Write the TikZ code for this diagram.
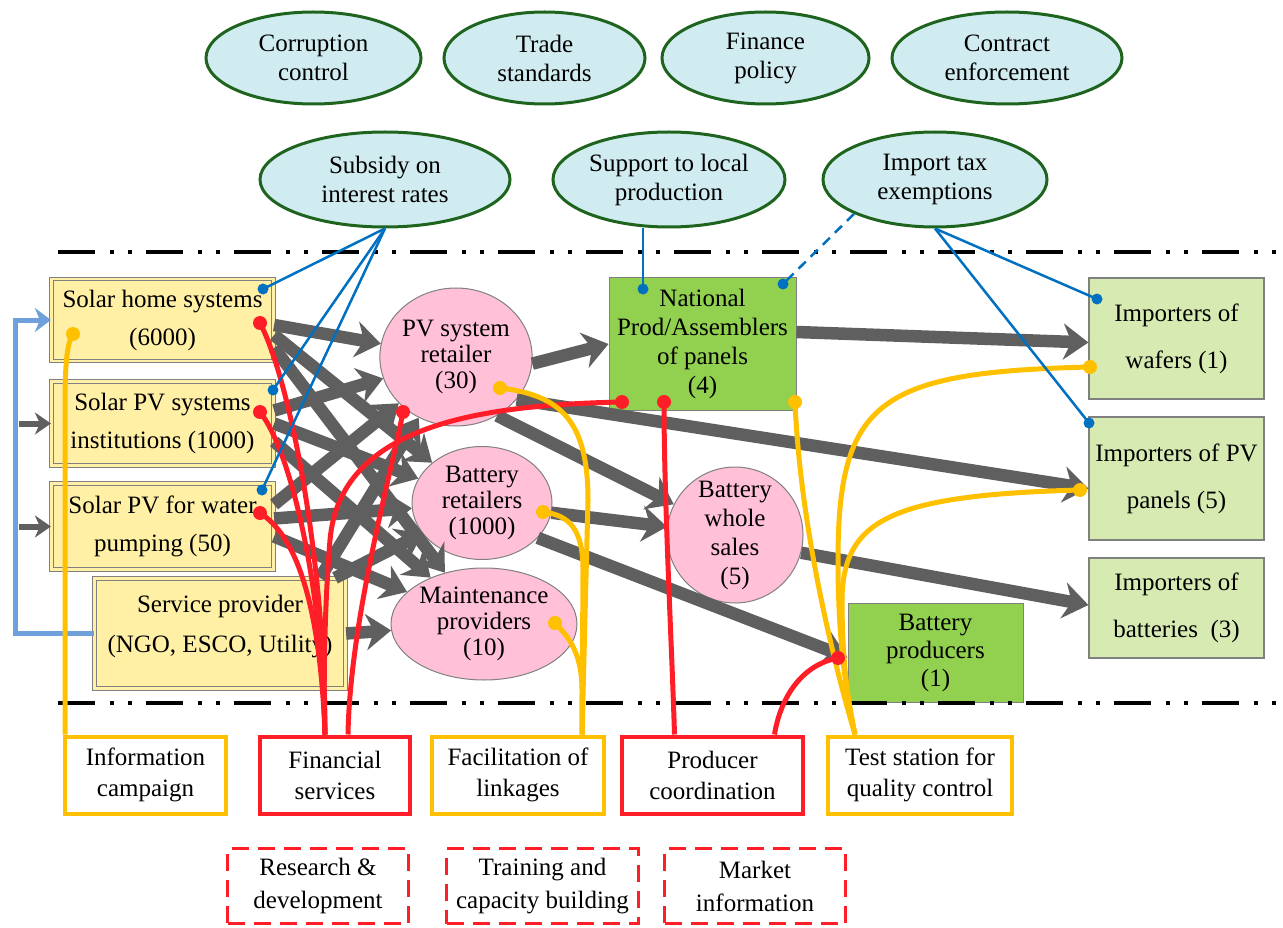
\documentclass[tikz,border=0pt]{standalone}
\usepackage{fontspec}
\setmainfont{Liberation Serif}
\usetikzlibrary{arrows.meta,shapes.geometric}
\definecolor{ylwfill}{RGB}{255,240,165}
\definecolor{boxgray}{RGB}{128,128,128}
\definecolor{pinkfill}{RGB}{255,192,216}
\definecolor{npagreen}{RGB}{146,208,80}
\definecolor{impgreen}{RGB}{215,234,178}
\definecolor{cyanfill}{RGB}{208,236,240}
\definecolor{dkgreen}{RGB}{30,100,30}
\definecolor{garr}{RGB}{95,95,95}
\definecolor{bline}{RGB}{0,112,192}
\definecolor{lblue}{RGB}{110,160,220}
\definecolor{rline}{RGB}{255,30,40}
\definecolor{yline}{RGB}{255,192,0}
\begin{document}
\begin{tikzpicture}[x=1pt,y=-1pt,
  txt/.style={font=\fontsize{25}{29}\selectfont, align=center, text=black},
  ybox/.style={txt, rectangle, draw=boxgray, double=ylwfill, double distance=2.5pt, line width=1.2pt, fill=ylwfill, inner sep=0pt, font=\fontsize{25}{38}\selectfont},
  pinkell/.style={txt, ellipse, draw=boxgray, line width=1pt, fill=pinkfill, inner sep=0pt, font=\fontsize{25}{26}\selectfont},
  polell/.style={txt, ellipse, draw=dkgreen, line width=3pt, fill=cyanfill, inner sep=0pt, minimum height=92pt},
  gbox/.style={txt, rectangle, draw=boxgray, line width=1pt, fill=npagreen, inner sep=0pt},
  impbox/.style={txt, rectangle, draw=boxgray, line width=1.2pt, fill=impgreen, inner sep=0pt, font=\fontsize{25}{47}\selectfont},
  ybot/.style={txt, rectangle, draw=yline, line width=4pt, fill=white, inner sep=0pt, minimum height=77pt, font=\fontsize{25}{31}\selectfont},
  rbot/.style={ybot, draw=rline},
  rdash/.style={ybot, draw=rline, dash pattern=on 17pt off 9pt, line width=3.5pt, font=\fontsize{25}{33}\selectfont},
  dashdot/.style={draw=black, line width=4.5pt, dash pattern=on 37pt off 15pt on 4pt off 14pt on 4pt off 14pt},
  garrow/.style={draw=garr, line width=12.5pt, -{Stealth[length=25pt,width=36pt,inset=8pt]}},
  gsmall/.style={draw=garr, line width=6pt, -{Stealth[length=16pt,width=22pt,inset=5pt]}},
  fbline/.style={draw=lblue, line width=5pt, -{Stealth[length=16pt,width=24pt,inset=5pt]}},
  bluel/.style={draw=bline, line width=2.5pt},
  redl/.style={draw=rline, line width=5pt},
  yell/.style={draw=yline, line width=5pt}
]
\useasboundingbox (0,0) rectangle (1283,928);

% policy ellipses
\node[polell, minimum width=215pt] (corr) at (313.5,58) {Corruption\\control};
\node[polell, minimum width=201pt] (trade) at (544.5,58) {Trade\\standards};
\node[polell, minimum width=207pt] (finp) at (765.5,58) {Finance\\policy};
\node[polell, minimum width=230pt] (contr) at (1007,58) {Contract\\enforcement};
\node[polell, minimum width=250pt, minimum height=95pt] (subs) at (385,179.5) {Subsidy on\\interest rates};
\node[polell, minimum width=232pt, minimum height=95pt] (supp) at (669,179.5) {Support to local\\production};
\node[polell, minimum width=224pt, minimum height=95pt] (imptax) at (935,179.5) {Import tax\\exemptions};

% left boxes
\node[ybox, minimum width=222pt, minimum height=82pt] (shs) at (162.5,320) {Solar home systems\\(6000)};
\node[ybox, minimum width=222pt, minimum height=84pt] (spi) at (162.5,423.5) {Solar PV systems\\institutions (1000)};
\node[ybox, minimum width=222pt, minimum height=86pt] (spw) at (162.5,526.5) {Solar PV for water\\pumping (50)};
\node[ybox, minimum width=251pt, minimum height=110pt] (sp) at (220,633.5) {};
\node[txt, font=\fontsize{25}{40}\selectfont] (sptxt) at (220,627) {Service provider\\(NGO, ESCO, Utility)};

% pink ellipses
\node[pinkell, minimum width=152pt, minimum height=138pt] (pvr) at (456,357) {PV system\\retailer\\(30)};
\node[pinkell, minimum width=140pt, minimum height=113pt] (bat) at (482,503) {Battery\\retailers\\(1000)};
\node[pinkell, minimum width=186pt, minimum height=112pt] (mnt) at (484,624) {Maintenance\\providers\\(10)};
\node[pinkell, minimum width=136pt, minimum height=136pt, inner ysep=-14pt, font=\fontsize{25}{29}\selectfont] (bws) at (735,535) {Battery\\whole\\sales\\(5)};

% green boxes
\node[gbox, minimum width=187pt, minimum height=132pt] (npa) at (702.5,344) {National\\Prod/Assemblers\\of panels\\(4)};
\node[gbox, minimum width=175pt, minimum height=99pt, font=\fontsize{25}{28}\selectfont] (bprod) at (935.5,652.5) {Battery\\producers\\(1)};
\node[impbox, minimum width=175pt, minimum height=121pt] (imp1) at (1176.5,338.5) {Importers of\\wafers (1)};
\node[impbox, minimum width=175pt, minimum height=123pt] (imp2) at (1176.5,478.5) {Importers of PV\\panels (5)};
\node[impbox, minimum width=175pt, minimum height=100pt] (imp3) at (1176.5,608) {Importers of\\batteries\ \ (3)};

% bottom boxes
\node[ybot, minimum width=161pt] (info) at (145.5,775) {Information\\campaign};
\node[rbot, minimum width=150pt] (fin) at (335,775) {Financial\\services};
\node[ybot, minimum width=172pt] (fac) at (518,775) {Facilitation of\\linkages};
\node[rbot, minimum width=181pt] (prod) at (712.5,775) {Producer\\coordination};
\node[ybot, minimum width=184pt] (test) at (920,775) {Test station for\\quality control};
\node[rdash, minimum width=181pt, minimum height=75pt] (rd) at (318,886) {Research \&\\development};
\node[rdash, minimum width=192pt, minimum height=75pt] (tcb) at (542.5,886) {Training and\\capacity building};
\node[rdash, minimum width=181pt, minimum height=75pt] (mi) at (755,886) {Market\\information};

% dash-dot boundaries
\coordinate (dl1) at (58,252); \coordinate (dr1) at (1283,252);
\coordinate (dl2) at (58,703); \coordinate (dr2) at (1283,703);
\draw[dashdot] (dl1) -- (dr1);
\draw[dashdot] (dl2) -- (dr2);

% feedback
\draw[fbline] (sp.west) -- ++(-78,0) |- (shs.west);
\coordinate (fb1) at (19,423.5);
\coordinate (fb2) at (19,526.5);
\draw[gsmall] (fb1) -- (spi.west);
\draw[gsmall] (fb2) -- (spw.west);

% gray flows
\draw[garrow] ([yshift=-5pt]shs.east) -- (pvr);
\draw[garrow] ([yshift=-15pt]shs.east) -- (bat);
\draw[garrow] ([yshift=-28pt]shs.east) -- (mnt);
\draw[garrow] ([yshift=13pt]spi.east) -- (pvr);
\draw[garrow] (spi.east) -- (bat);
\draw[garrow] ([yshift=-18pt]spi.east) -- (mnt);
\draw[garrow] ([yshift=22pt]spw.east) -- (pvr);
\draw[garrow] ([yshift=8pt]spw.east) -- (bat);
\draw[garrow] ([yshift=-10pt]spw.east) -- (mnt);
\draw[garrow] ([xshift=100pt]sp.north) -- (pvr);
\draw[garrow] ([xshift=115pt]sp.north) -- (bat);
\draw[garrow] (sp.east) -- (mnt);
\draw[garrow] (pvr.-5) -- (npa.west);
\draw[garrow] ([yshift=12pt]npa.east) -- ([yshift=-4pt]imp1.west);
\draw[garrow] (pvr.-35) -- ([yshift=-10pt]imp2.west);
\draw[garrow] (pvr.-55) -- (bws);
\draw[garrow] (bat.-8) -- (bws);
\draw[garrow] (bat.-32) -- ([yshift=-5pt]bprod.west);
\draw[garrow] (bws.-15) -- ([yshift=3pt]imp3.west);

% dot coordinates
\coordinate (shsB) at (263,289); \coordinate (spiB) at (273,390); \coordinate (spwB) at (262,490);
\coordinate (npaB) at (643,289); \coordinate (npaD) at (783,284);
\coordinate (imp1B) at (1097,299); \coordinate (imp2B) at (1089,423);
\coordinate (shsR) at (260,323); \coordinate (spiR) at (260,412); \coordinate (spwR) at (260,513);
\coordinate (pvrR) at (403,412); \coordinate (npaR1) at (622,402); \coordinate (npaR2) at (664,402);
\coordinate (bprodR) at (838,658);
\coordinate (shsY) at (73,334); \coordinate (pvrY) at (500,388); \coordinate (batY) at (543,512);
\coordinate (mntY) at (555,623); \coordinate (npaY) at (795,402);
\coordinate (imp1Y) at (1090,367); \coordinate (imp2Y) at (1080,490);

% red links
\draw[redl] (shsR) .. controls (290,380) and (325,560) .. ([xshift=-10pt]fin.north);
\draw[redl] (spiR) .. controls (290,450) and (322,580) .. ([xshift=-10pt]fin.north);
\draw[redl] (spwR) .. controls (295,535) and (320,600) .. ([xshift=-10pt]fin.north);
\draw[redl] (pvrR) .. controls (392,470) and (350,620) .. ([xshift=13pt]fin.north);
\draw[redl] (npaR1) .. controls (480,405) and (340,425) .. (330,540) .. controls (325,600) and (323,680) .. ([xshift=-10pt]fin.north);
\draw[redl] (npaR2) .. controls (664,500) and (672,650) .. ([xshift=-38pt]prod.north);
\draw[redl] (bprodR) .. controls (800,665) and (780,700) .. ([xshift=62pt]prod.north);

% yellow links
\draw[yell] (shsY) .. controls (65,345) and (65,380) .. (65,420) -- ([xshift=2pt]info.north west);
\draw[yell] (pvrY) .. controls (560,395) and (588,420) .. (588,500) -- ([xshift=64pt]fac.north);
\draw[yell] (batY) .. controls (570,515) and (583,530) .. (583,570) -- ([xshift=64pt]fac.north);
\draw[yell] (mntY) .. controls (570,638) and (582,655) .. (582,690) -- ([xshift=64pt]fac.north);
\draw[yell] (npaY) .. controls (800,520) and (830,650) .. ([xshift=-65pt]test.north);
\draw[yell] (imp1Y) .. controls (880,372) and (838,400) .. (838,560) .. controls (838,650) and (848,700) .. ([xshift=-65pt]test.north);
\draw[yell] (imp2Y) .. controls (890,495) and (843,520) .. (842,600) .. controls (842,670) and (850,710) .. ([xshift=-65pt]test.north);

% blue links
\draw[bluel] (subs.south) -- (shsB);
\draw[bluel] (subs.south) -- (spiB);
\draw[bluel] (subs.south) -- (spwB);
\draw[bluel] (supp.south -| npaB) -- (npaB);
\draw[bluel, dash pattern=on 10pt off 7pt] (imptax.203) -- (npaD);
\draw[bluel] (imptax.south) -- (imp1B);
\draw[bluel] (imptax.south) -- (imp2B);

% dots
\foreach \c in {shsB,spiB,spwB,npaB,npaD,imp1B,imp2B} \fill[bline] (\c) circle[radius=5.5];
\foreach \c in {shsR,spiR,spwR,pvrR,npaR1,npaR2,bprodR} \fill[rline] (\c) circle[radius=7];
\foreach \c in {shsY,pvrY,batY,mntY,npaY,imp1Y,imp2Y} \fill[yline] (\c) circle[radius=7];
\end{tikzpicture}
\end{document}
